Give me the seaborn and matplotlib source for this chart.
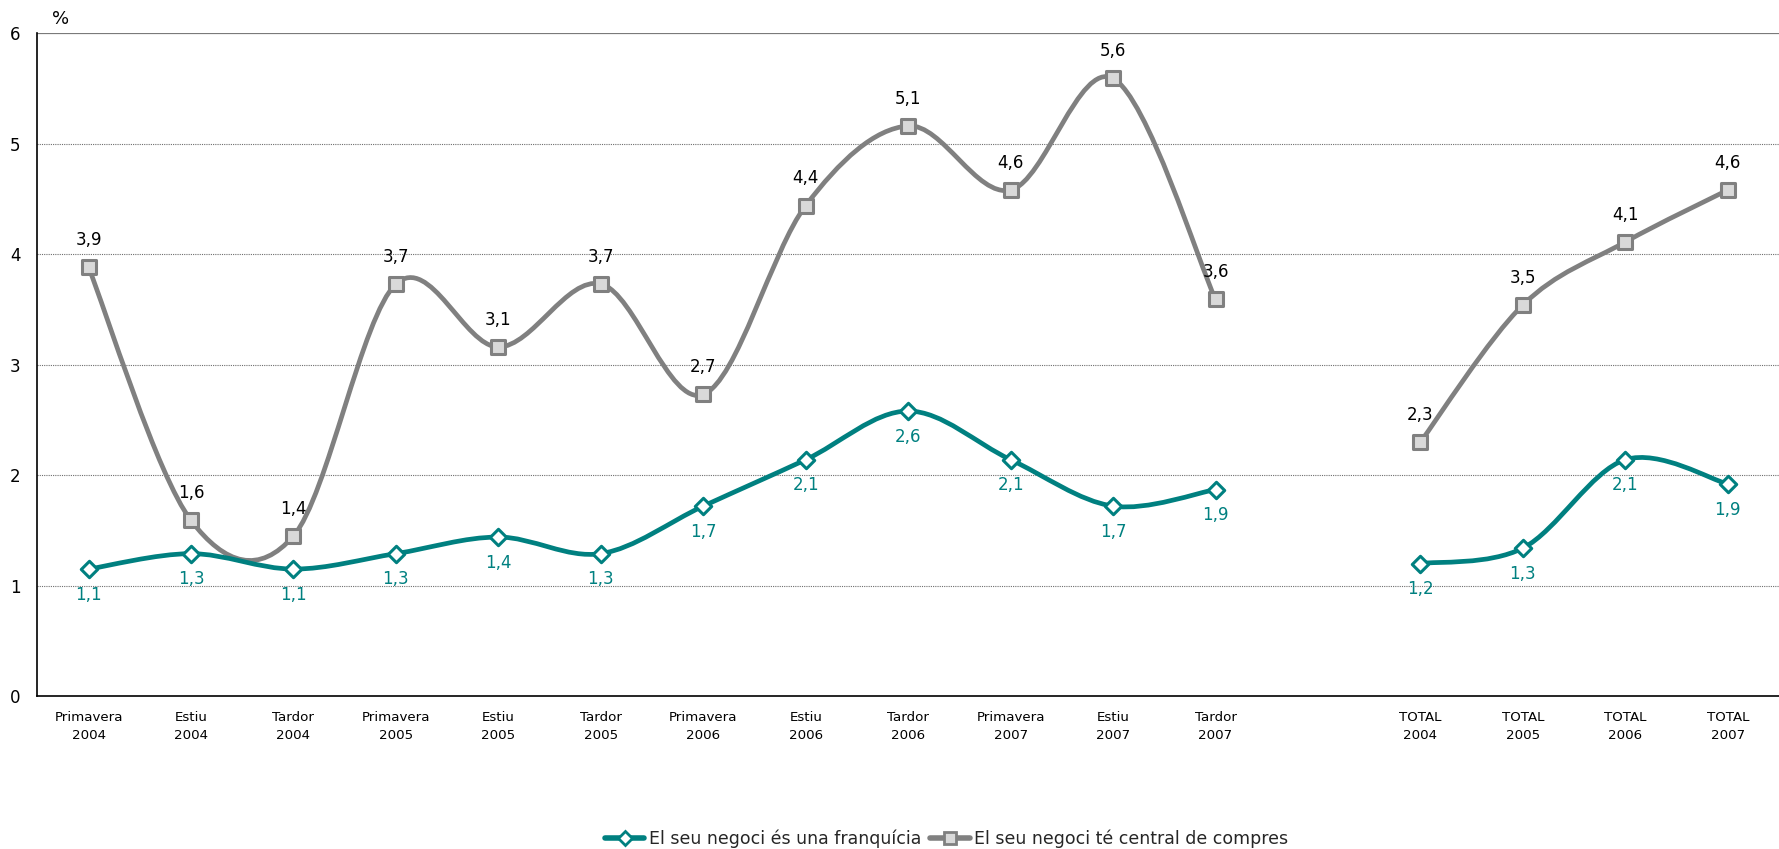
import numpy as np
import pandas as pd
import matplotlib
matplotlib.use("Agg")
import matplotlib.pyplot as plt
import seaborn as sns
from matplotlib.path import Path
from matplotlib.patches import PathPatch
from matplotlib.lines import Line2D

categories = ["Primavera\n2004", "Estiu\n2004", "Tardor\n2004",
              "Primavera\n2005", "Estiu\n2005", "Tardor\n2005",
              "Primavera\n2006", "Estiu\n2006", "Tardor\n2006",
              "Primavera\n2007", "Estiu\n2007", "Tardor\n2007",
              "",
              "TOTAL\n2004", "TOTAL\n2005", "TOTAL\n2006", "TOTAL\n2007"]

franquicia = [1.15, 1.29, 1.15, 1.29, 1.44, 1.29, 1.72, 2.14, 2.58, 2.14, 1.72, 1.87,
              None, 1.20, 1.34, 2.14, 1.92]
franquicia_lbl = ["1,1", "1,3", "1,1", "1,3", "1,4", "1,3", "1,7", "2,1", "2,6", "2,1", "1,7", "1,9",
                  "", "1,2", "1,3", "2,1", "1,9"]

central = [3.88, 1.59, 1.45, 3.73, 3.16, 3.73, 2.73, 4.44, 5.16, 4.58, 5.59, 3.59,
           None, 2.30, 3.54, 4.11, 4.58]
central_lbl = ["3,9", "1,6", "1,4", "3,7", "3,1", "3,7", "2,7", "4,4", "5,1", "4,6", "5,6", "3,6",
               "", "2,3", "3,5", "4,1", "4,6"]

name_f = "El seu negoci és una franquícia"
name_c = "El seu negoci té central de compres"

TEAL = "#008080"
GRAY = "#808080"

sns.set_theme(style="white")
plt.rcParams["font.family"] = ["DejaVu Sans"]

fig = plt.figure(figsize=(17.79, 8.49), dpi=100)
ax = fig.add_axes([0.021, 0.18, 0.979, 0.781])

x = np.arange(len(categories))


def segments(vals):
    segs, cur = [], []
    for i, v in enumerate(vals):
        if v is None:
            if cur:
                segs.append(cur)
            cur = []
        else:
            cur.append((i, v))
    if cur:
        segs.append(cur)
    return segs


def smooth_path(seg):
    pts = np.array(seg, dtype=float)
    n = len(pts)
    verts = [pts[0]]
    codes = [Path.MOVETO]
    for i in range(n - 1):
        p0 = pts[i - 1] if i > 0 else pts[i]
        p1 = pts[i]
        p2 = pts[i + 1]
        p3 = pts[i + 2] if i + 2 < n else pts[i + 1]
        c1 = p1 + (p2 - p0) / 6.0
        c2 = p2 - (p3 - p1) / 6.0
        verts += [c1, c2, p2]
        codes += [Path.CURVE4] * 3
    return Path(verts, codes)


for vals, col in [(central, GRAY), (franquicia, TEAL)]:
    for seg in segments(vals):
        ax.add_patch(PathPatch(smooth_path(seg), facecolor="none", edgecolor=col,
                               lw=3.4, zorder=3, capstyle="round", joinstyle="round"))

df = pd.DataFrame({"x": x, "franquicia": franquicia, "central": central})
dfc = df.dropna(subset=["central"])
dff = df.dropna(subset=["franquicia"])
sns.scatterplot(data=dfc, x="x", y="central", marker="s", s=100, color="#d9d9d9",
                edgecolor=GRAY, linewidth=2.2, zorder=5, ax=ax, legend=False)
sns.scatterplot(data=dff, x="x", y="franquicia", marker="D", s=70, color="white",
                edgecolor=TEAL, linewidth=2.2, zorder=6, ax=ax, legend=False)

for xi, v, l in zip(x, central, central_lbl):
    if v is not None:
        ax.annotate(l, (xi, v), xytext=(0, 13), textcoords="offset points",
                    ha="center", va="bottom", fontsize=12, color="black", zorder=7)
for xi, v, l in zip(x, franquicia, franquicia_lbl):
    if v is not None:
        ax.annotate(l, (xi, v), xytext=(0, -12), textcoords="offset points",
                    ha="center", va="top", fontsize=12, color=TEAL, zorder=7)

ax.set_xlim(-0.5, len(categories) - 0.5)
ax.set_ylim(0, 6)
ax.set_xticks(x)
ax.set_xticklabels(categories, fontsize=9.6, linespacing=1.5, color="black")
ax.set_yticks(range(0, 7))
ax.set_yticklabels([str(i) for i in range(0, 7)], fontsize=12, color="black")
ax.tick_params(axis="x", length=0, pad=11)
ax.tick_params(axis="y", length=0, pad=12)
ax.set_xlabel("")
ax.set_ylabel("")
for yv in range(1, 6):
    ax.axhline(yv, color="#6e6e6e", lw=0.8, ls=(0, (1, 1)), zorder=1)
ax.axhline(6, color="#7a7a7a", lw=1.6, zorder=1)

for s in ["top", "right"]:
    ax.spines[s].set_visible(False)
for s in ["left", "bottom"]:
    ax.spines[s].set_color("black")
    ax.spines[s].set_linewidth(1.2)

fig.text(0.029, 0.978, "%", fontsize=13, ha="left", va="center", color="black")

handles = [
    Line2D([], [], color=TEAL, lw=4, marker="D", markersize=7, markerfacecolor="white",
           markeredgecolor=TEAL, markeredgewidth=2),
    Line2D([], [], color=GRAY, lw=4, marker="s", markersize=8, markerfacecolor="#d9d9d9",
           markeredgecolor=GRAY, markeredgewidth=2),
]
fig.legend(handles, [name_f, name_c], loc="center", bbox_to_anchor=(0.532, 0.012),
           ncol=2, frameon=False, fontsize=12.5, handlelength=2.3, handletextpad=0.25,
           columnspacing=0.5)

fig.savefig("out.png", dpi=100)
